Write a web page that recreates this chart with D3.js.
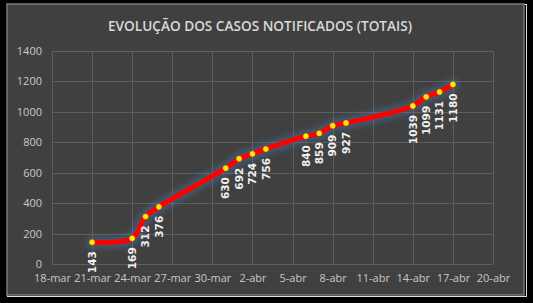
<!DOCTYPE html>
<html>
<head>
<meta charset="utf-8">
<script src="https://cdn.jsdelivr.net/npm/d3@7"></script>
<style>
  body { margin: 0; background: #000; }
  svg { display: block; }
</style>
</head>
<body>
<div id="chart"></div>
<script>
// data
const dates = ["2020-03-21", "2020-03-24", "2020-03-25", "2020-03-26", "2020-03-31",
  "2020-04-01", "2020-04-02", "2020-04-03", "2020-04-06", "2020-04-07", "2020-04-08",
  "2020-04-09", "2020-04-14", "2020-04-15", "2020-04-16", "2020-04-17"]
const cases = [143, 169, 312, 376, 630, 692, 724, 756, 840, 859, 909, 927, 1039, 1099, 1131, 1180]
const yTicks = [0, 200, 400, 600, 800, 1000, 1200, 1400]
const title = "EVOLUÇÃO DOS CASOS NOTIFICADOS (TOTAIS)"
const months = ["jan", "fev", "mar", "abr", "mai", "jun", "jul", "ago", "set", "out", "nov", "dez"]

const W = 533, H = 303
const MARGIN = { TOP: 51, BOTTOM: 39, LEFT: 52, RIGHT: 40 }
const WIDTH = W - MARGIN.LEFT - MARGIN.RIGHT
const HEIGHT = H - MARGIN.TOP - MARGIN.BOTTOM

const parse = d3.timeParse("%Y-%m-%d")
const data = dates.map((d, i) => ({ date: parse(d), value: cases[i] }))

const svg = d3.select("#chart").append("svg")
  .attr("width", W)
  .attr("height", H)

// frame
svg.append("rect").attr("x", 0).attr("y", 0).attr("width", W).attr("height", H).attr("fill", "#000")
svg.append("rect").attr("x", 7.5).attr("y", 4.5).attr("width", 519).attr("height", 292)
  .attr("fill", "none").attr("stroke", "#e0e0e0").attr("stroke-width", 1)
svg.append("rect").attr("x", 7).attr("y", 4).attr("width", 517).attr("height", 291)
  .attr("fill", "#404040").attr("stroke", "#7a7a7a").attr("stroke-width", 1.5)

const defs = svg.append("defs")
const glow = defs.append("filter").attr("id", "glow")
  .attr("x", "-20%").attr("y", "-20%").attr("width", "140%").attr("height", "140%")
glow.append("feGaussianBlur").attr("stdDeviation", 3)

svg.append("text")
  .attr("x", 260)
  .attr("y", 31)
  .attr("text-anchor", "middle")
  .attr("fill", "#d9d9d9")
  .style("font-family", "'Open Sans', sans-serif")
  .style("font-weight", 600)
  .style("font-size", "14.5px")
  .attr("textLength", 304)
  .attr("lengthAdjust", "spacingAndGlyphs")
  .text(title)

const g = svg.append("g")
  .attr("transform", "translate(" + MARGIN.LEFT + "," + MARGIN.TOP + ")")

const x = d3.scaleTime()
  .domain([parse("2020-03-18"), parse("2020-04-20")])
  .range([0, WIDTH])

const y = d3.scaleLinear()
  .domain([0, 1400])
  .range([HEIGHT, 0])

const xTicks = d3.timeDay.range(parse("2020-03-18"), d3.timeDay.offset(parse("2020-04-20"), 1), 3)

// gridlines
g.append("g").selectAll("line").data(yTicks).enter().append("line")
  .attr("x1", 0).attr("x2", WIDTH)
  .attr("y1", d => Math.round(y(d)) + 0.5).attr("y2", d => Math.round(y(d)) + 0.5)
  .attr("stroke", "#5e5e5e")
g.append("g").selectAll("line").data(xTicks).enter().append("line")
  .attr("x1", d => Math.round(x(d)) + 0.5).attr("x2", d => Math.round(x(d)) + 0.5)
  .attr("y1", 0).attr("y2", HEIGHT)
  .attr("stroke", "#5e5e5e")

// axes
const yAxis = g.append("g")
  .call(d3.axisLeft(y).tickValues(yTicks).tickSize(0).tickPadding(10).tickFormat(d3.format("d")))
const xAxis = g.append("g")
  .attr("transform", "translate(0," + HEIGHT + ")")
  .call(d3.axisBottom(x).tickValues(xTicks).tickSize(0).tickPadding(10)
    .tickFormat(d => d.getDate() + "-" + months[d.getMonth()]))
for (const ax of [xAxis, yAxis]) {
  ax.select(".domain").remove()
  ax.selectAll("text")
    .attr("fill", "#c8c8c8")
    .style("font-family", "'Open Sans', sans-serif")
    .style("font-size", "11px")
}

const line = d3.line()
  .x(d => x(d.date))
  .y(d => y(d.value))
  .curve(d3.curveCatmullRom.alpha(0.5))

// blue glow under the line
g.append("path").datum(data)
  .attr("d", line)
  .attr("fill", "none")
  .attr("stroke", "#4a86c5")
  .attr("stroke-width", 11)
  .attr("stroke-opacity", 0.4)
  .attr("stroke-linecap", "round")
  .attr("filter", "url(#glow)")

g.append("path").datum(data)
  .attr("d", line)
  .attr("fill", "none")
  .attr("stroke", "#ff0000")
  .attr("stroke-width", 5)
  .attr("stroke-linejoin", "round")

g.selectAll("circle").data(data).enter().append("circle")
  .attr("cx", d => x(d.date))
  .attr("cy", d => y(d.value))
  .attr("r", 2.6)
  .attr("fill", "#ffee00")
  .attr("stroke", "#ffc000")
  .attr("stroke-width", 0.6)

g.selectAll(".lbl").data(data).enter().append("text")
  .attr("class", "lbl")
  .attr("transform", d => "translate(" + x(d.date) + "," + (y(d.value) + 9) + ") rotate(-90)")
  .attr("text-anchor", "end")
  .attr("dy", "0.35em")
  .attr("fill", "#f0f0f0")
  .style("font-family", "'DejaVu Sans', sans-serif")
  .style("font-weight", "bold")
  .style("font-size", "10.5px")
  .text(d => d.value)
</script>
</body>
</html>
